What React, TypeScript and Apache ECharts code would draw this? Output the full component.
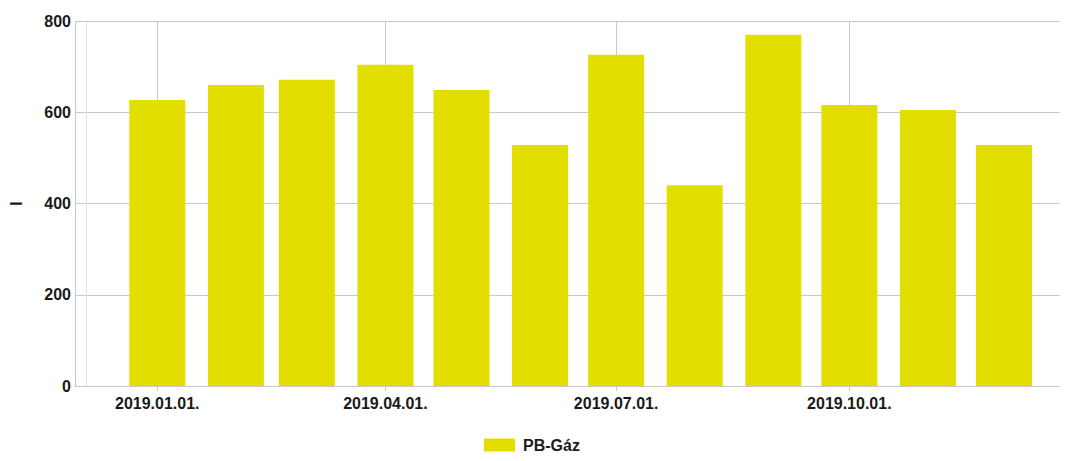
import React, { useEffect, useRef } from "react";
import * as echarts from "echarts";

const months = [
  "2019-01-01", "2019-02-01", "2019-03-01", "2019-04-01", "2019-05-01", "2019-06-01",
  "2019-07-01", "2019-08-01", "2019-09-01", "2019-10-01", "2019-11-01", "2019-12-01",
];
const values = [627, 660, 671, 704, 649, 528, 726, 440, 770, 616, 605, 528];
const seriesName = "PB-Gáz";
const yTicks = [0, 200, 400, 600, 800];
// axis bounds before ECharts widens them by half a bar on each side
const xMin = "2018-12-10T14:00:00";
const xMax = "2019-12-15T05:00:00";

const FONT = "'Liberation Sans', Arial, sans-serif";

const ts = (s: string) => new Date(s.length === 10 ? s + "T00:00:00" : s).getTime();

export default function App() {
  const ref = useRef<HTMLDivElement>(null);
  useEffect(() => {
    const chart = echarts.init(ref.current!, null, { renderer: "svg" });
    const pad = (n: number) => (n < 10 ? "0" + n : "" + n);
    chart.setOption({
      animation: false,
      textStyle: { fontFamily: FONT },
      grid: { left: 75, right: 0, top: 21, bottom: 75, containLabel: false, outerBoundsMode: "none" },
      legend: {
        bottom: 3,
        left: 479,
        icon: "rect",
        itemWidth: 31,
        itemHeight: 13,
        itemGap: 20,
        textStyle: { fontFamily: FONT, fontWeight: "bold", fontSize: 16, color: "#1a1a1a", padding: [0, 0, 0, 3] },
        data: [seriesName],
      },
      xAxis: {
        type: "time",
        min: ts(xMin),
        max: ts(xMax),
        splitNumber: 4,
        axisLine: { show: true, lineStyle: { color: "#c8c8c8", width: 1 } },
        axisTick: { show: true, length: 5, lineStyle: { color: "#c8c8c8" } },
        splitLine: { show: true, lineStyle: { color: "#c8c8c8", width: 1 } },
        axisLabel: {
          margin: 9,
          fontFamily: FONT,
          fontWeight: "bold",
          fontSize: 16,
          color: "#1a1a1a",
          hideOverlap: false,
          formatter: (v: number) => {
            const d = new Date(v);
            return d.getFullYear() + "." + pad(d.getMonth() + 1) + "." + pad(d.getDate()) + ".";
          },
        },
      },
      yAxis: {
        type: "value",
        min: yTicks[0],
        max: yTicks[yTicks.length - 1],
        interval: 200,
        offset: -11,
        name: "l",
        nameLocation: "middle",
        nameRotate: 90,
        nameGap: 62,
        nameTextStyle: { fontFamily: FONT, fontWeight: "bold", fontSize: 16, color: "#1a1a1a" },
        axisLine: { show: true, lineStyle: { color: "#e0e0e0", width: 1 } },
        axisTick: { show: false },
        splitLine: { show: true, lineStyle: { color: "#c8c8c8", width: 1 } },
        axisLabel: {
          margin: 15,
          fontFamily: FONT,
          fontWeight: "bold",
          fontSize: 16,
          color: "#1a1a1a",
        },
      },
      series: [
        {
          name: seriesName,
          type: "bar",
          barWidth: 56,
          itemStyle: { color: "#e2df00" },
          data: months.map((m, i) => [ts(m), values[i]]),
        },
      ],
    });
    return () => chart.dispose();
  }, []);
  return <div ref={ref} style={{ width: 1068, height: 461, margin: -8 }} />;
}
